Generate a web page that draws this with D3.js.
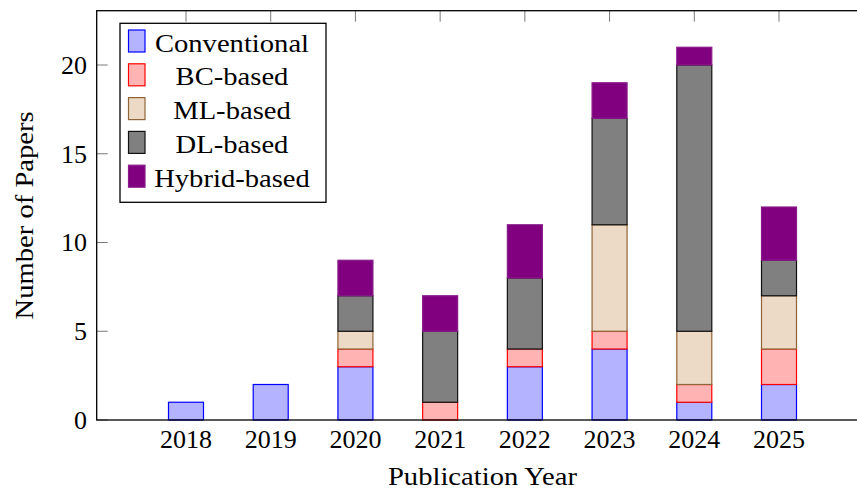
<!DOCTYPE html>
<html>
<head>
<meta charset="utf-8">
<script src="https://cdn.jsdelivr.net/npm/d3@7"></script>
<style>
  html, body { margin: 0; padding: 0; background: #fff; }
  svg { display: block; }
  text { font-family: "Liberation Serif", "Times New Roman", serif; fill: #000; }
</style>
</head>
<body>
<svg id="chart" width="857" height="490"></svg>
<script>
// Papers per publication year, stacked by method family
const years = [2018, 2019, 2020, 2021, 2022, 2023, 2024, 2025];
const conventional = [1, 2, 3, 0, 3, 4, 1, 2];
const bcBased      = [0, 0, 1, 1, 1, 1, 1, 2];
const mlBased      = [0, 0, 1, 0, 0, 6, 3, 3];
const dlBased      = [0, 0, 2, 4, 4, 6, 15, 2];
const hybridBased  = [0, 0, 2, 2, 3, 2, 1, 3];
const seriesNames  = ["Conventional", "BC-based", "ML-based", "DL-based", "Hybrid-based"];
const yTicks = [0, 5, 10, 15, 20];

const seriesStyle = {
  "Conventional": { fill: "#b3b3ff", stroke: "#0000ff" },
  "BC-based":     { fill: "#ffb3b3", stroke: "#ff0000" },
  "ML-based":     { fill: "#ecd9c6", stroke: "#8f6436" },
  "DL-based":     { fill: "#808080", stroke: "#111111" },
  "Hybrid-based": { fill: "#800080", stroke: "#8a1a8a" }
};

const rows = years.map((y, i) => ({
  year: y,
  "Conventional": conventional[i],
  "BC-based": bcBased[i],
  "ML-based": mlBased[i],
  "DL-based": dlBased[i],
  "Hybrid-based": hybridBased[i]
}));

const svg = d3.select("#chart");
const frame = { left: 96.7, right: 868.3, top: 10.7, bottom: 420 };

const x = d3.scaleLinear()
  .domain([2016.946, 2026.054])
  .range([frame.left, frame.right]);
const y = d3.scaleLinear()
  .domain([0, 23.06])
  .range([frame.bottom, frame.top]);

const barW = 35;
const tickLen = 11;
const stretch = 1.1;

// tick marks on all four sides, drawn beneath the bars
const ticks = svg.append("g").attr("stroke", "#7a7a7a").attr("stroke-width", 1);
yTicks.forEach(t => {
  ticks.append("line").attr("x1", frame.left).attr("x2", frame.left + tickLen)
    .attr("y1", y(t)).attr("y2", y(t));
  ticks.append("line").attr("x1", frame.right - tickLen).attr("x2", frame.right)
    .attr("y1", y(t)).attr("y2", y(t));
});
years.forEach(t => {
  ticks.append("line").attr("x1", x(t)).attr("x2", x(t))
    .attr("y1", frame.top).attr("y2", frame.top + tickLen);
  ticks.append("line").attr("x1", x(t)).attr("x2", x(t))
    .attr("y1", frame.bottom).attr("y2", frame.bottom - tickLen);
});

// stacked bars
const stack = d3.stack().keys(seriesNames)(rows);
stack.forEach(layer => {
  const st = seriesStyle[layer.key];
  svg.append("g")
    .selectAll("rect")
    .data(layer.filter(d => d[1] - d[0] > 0))
    .join("rect")
    .attr("x", d => x(d.data.year) - barW / 2)
    .attr("width", barW)
    .attr("y", d => y(d[1]))
    .attr("height", d => y(d[0]) - y(d[1]))
    .attr("fill", st.fill)
    .attr("stroke", st.stroke)
    .attr("stroke-width", 1.2);
});

// axis frame
svg.append("rect")
  .attr("x", frame.left).attr("y", frame.top)
  .attr("width", frame.right - frame.left)
  .attr("height", frame.bottom - frame.top)
  .attr("fill", "none").attr("stroke", "#000").attr("stroke-width", 1.3);

// tick labels
svg.append("g").selectAll("text")
  .data(yTicks).join("text")
  .attr("x", 87).attr("y", d => y(d))
  .attr("dy", "0.34em")
  .attr("text-anchor", "end")
  .attr("font-size", 26)
  .text(d => d);

svg.append("g").selectAll("text")
  .data(years).join("text")
  .attr("x", d => x(d)).attr("y", 448)
  .attr("text-anchor", "middle")
  .attr("font-size", 26)
  .text(d => d);

// widen a label slightly to suit the book-style face
function widen(sel) {
  sel.each(function () {
    const w = this.getComputedTextLength();
    d3.select(this).attr("textLength", w * stretch).attr("lengthAdjust", "spacingAndGlyphs");
  });
}

// axis titles
svg.append("text")
  .attr("x", (frame.left + frame.right) / 2).attr("y", 485)
  .attr("text-anchor", "middle")
  .attr("font-size", 26)
  .text("Publication Year")
  .call(widen);

svg.append("text")
  .attr("transform", `translate(33, ${(frame.top + frame.bottom) / 2}) rotate(-90)`)
  .attr("text-anchor", "middle")
  .attr("font-size", 26)
  .text("Number of Papers")
  .call(widen);

// legend
const legend = svg.append("g");
legend.append("rect")
  .attr("x", 120).attr("y", 23.3).attr("width", 206).attr("height", 179)
  .attr("fill", "#fff").attr("stroke", "#000").attr("stroke-width", 1.3);

const rowStep = 33.8;
seriesNames.forEach((name, i) => {
  const st = seriesStyle[name];
  const cy = 41 + i * rowStep;
  legend.append("rect")
    .attr("x", 128.5).attr("y", cy - 11).attr("width", 16.5).attr("height", 22)
    .attr("fill", st.fill).attr("stroke", st.stroke).attr("stroke-width", 1.2);
  legend.append("text")
    .attr("x", 232).attr("y", cy + 10.5)
    .attr("text-anchor", "middle")
    .attr("font-size", 26)
    .text(name)
    .call(widen);
});
</script>
</body>
</html>
